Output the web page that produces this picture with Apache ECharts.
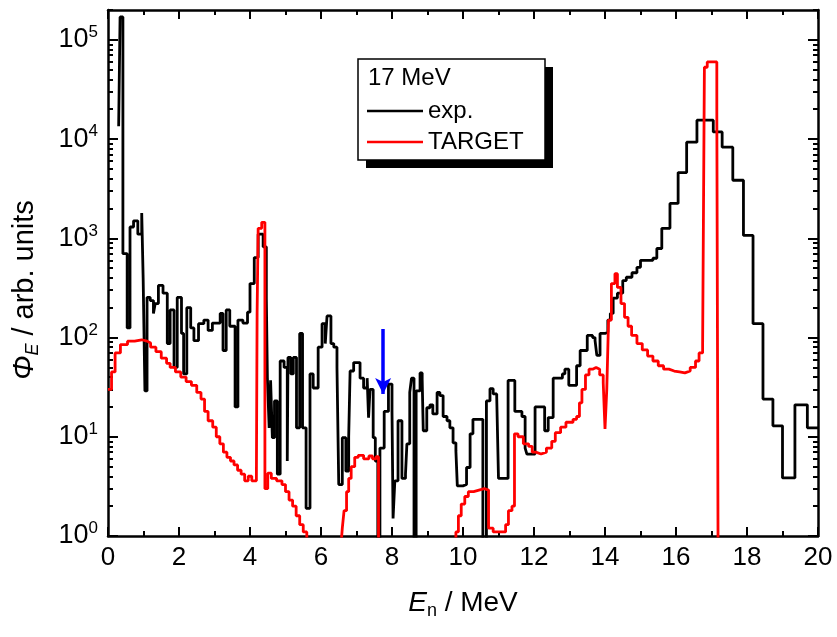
<!DOCTYPE html>
<html>
<head>
<meta charset="utf-8">
<script src="https://cdn.jsdelivr.net/npm/echarts@6/dist/echarts.min.js"></script>
<style>html,body{margin:0;padding:0;background:#fff}#c{width:837px;height:637px}</style>
</head>
<body>
<div id="c"></div>
<script>
// ---- data ----
const expE = [0.30,0.34,0.42,0.54,0.62,0.72,0.84,0.95,0.99,1.04,1.10,1.19,1.28,1.33,1.42,1.55,1.67,1.75,1.86,1.95,
  2.07,2.13,2.22,2.33,2.42,2.55,2.70,2.82,2.94,3.16,3.24,3.33,3.43,3.58,3.66,3.80,3.93,4.00,4.12,4.23,
  4.37,4.46,4.49,4.54,4.58,4.63,4.69,4.77,4.85,4.96,5.05,5.07,5.15,5.22,5.31,5.40,5.48,5.58,5.69,5.78,
  5.92,6.03,6.12,6.17,6.28,6.36,6.45,6.50,6.60,6.70,6.78,6.82,6.92,7.10,7.20,7.30,7.34,7.38,7.47,7.53,
  7.60,7.66,7.78,7.90,8.00,8.03,8.08,8.17,8.28,8.38,8.42,8.50,8.55,8.62,8.68,8.79,8.85,8.88,8.98,9.07,
  9.15,9.27,9.35,9.44,9.55,9.63,9.72,9.80,9.84,10.00,10.10,10.20,10.28,10.48,10.56,10.66,10.76,10.85,10.95,11.00,
  11.27,11.46,11.66,11.75,11.80,12.03,12.30,12.40,12.54,12.80,12.87,12.98,13.20,13.30,13.50,13.65,13.72,13.77,13.86,14.00,
  14.08,14.15,14.23,14.35,14.50,14.60,14.76,14.90,15.00,15.35,15.46,15.60,15.83,16.06,16.30,16.59,17.05,17.30,17.60,17.90,
  18.17,18.45,18.73,19.00,19.35,19.70,20.00];
const expV = [13500,170000,700,125,1300,1500,1100,1800,400,29,254,236,175,220,335,280,87,190,50,254,
  110,43,200,125,93,138,150,118,140,175,74,190,130,20,150,140,180,350,640,1100,
  820,250,39,12.3,37,9.8,23,4.2,58,50,5.7,63,43,63,12.3,110,12.3,1.9,43,31,
  80,138,87,165,87,80,50,3.3,9.8,4.5,10,46,56,39,31,39,15.6,30,9.8,5.7,
  0.01,7.7,18,34,18,1.5,3.6,14.5,3.8,4.2,8.5,28,39,0.01,29,44,38,11.5,19.6,21,
  17,28,26,16,14.5,12.3,8.7,7.2,3.2,3.3,4.9,10.7,15,15,0.01,23,30.5,27,25,3.8,
  37,18,16,7.7,6.7,20,11.5,15.6,39,43,48,33,52,74,105,100,93,66,110,113,
  150,175,250,280,375,405,450,510,600,630,790,1260,2250,4600,9300,15500,11800,8300,3850,1070,
  138,24,12.9,3.85,21,12.3,12.3];

const tgtE = [0.00,0.10,0.20,0.35,0.55,0.75,0.95,1.10,1.20,1.35,1.50,1.65,1.75,1.90,2.05,2.20,2.35,2.50,2.62,2.72,
  2.82,2.95,3.05,3.15,3.25,3.35,3.45,3.55,3.65,3.75,3.85,3.95,4.05,4.18,4.20,4.23,4.33,4.42,4.50,4.60,
  4.75,4.90,5.00,5.10,5.20,5.30,5.40,5.50,5.60,5.70,6.55,6.60,6.65,6.72,6.78,6.85,6.95,7.05,7.20,7.35,
  7.45,7.55,7.62,9.80,9.87,9.95,10.05,10.15,10.30,10.45,10.60,10.72,10.85,11.00,11.20,11.28,11.38,11.45,11.55,11.70,
  11.85,11.95,12.05,12.20,12.35,12.50,12.60,12.75,12.90,13.10,13.20,13.28,13.35,13.45,13.55,13.65,13.75,13.85,13.95,14.00,
  14.05,14.10,14.18,14.28,14.35,14.45,14.55,14.65,14.75,14.90,15.05,15.20,15.35,15.50,15.65,15.80,15.95,16.10,16.25,16.40,
  16.55,16.65,16.75,16.80,16.88,17.15,17.20,20.00];
const tgtV = [30,45,70,85,92,95,92,88,80,72,62,55,50,45,40,36,33,28,24,18,
  14.5,12.5,10,8.5,7,6.2,5.7,5.2,4.6,4.2,3.6,4.0,3.6,3.8,175,1260,1450,3.0,4.3,3.8,
  3.6,3.3,2.8,2.3,2.0,1.6,1.3,1.1,0.9,0.01,0.7,1.2,1.8,2.8,3.8,5.0,6.2,6.5,6.0,6.4,
  6.0,6.3,0.01,1.1,1.6,2.1,2.5,2.8,2.9,3.0,2.9,1.2,1.1,1.1,1.3,1.8,2.0,10.7,10,8.5,
  8,7,6.7,7,7.7,9,11,12.5,14,15,16,22,30,42,48,50,48,42,35,12,
  30,150,350,440,320,220,160,130,105,87,75,65,58,52,48,46,45,44,46,50,
  58,70,85,53000,60000,18700,0.01,0.01];

const seriesNames = ['exp.', 'TARGET'];
const legendTitle = '17 MeV';
const xTickValues = [0,2,4,6,8,10,12,14,16,18,20];
const yMajor = [1, 10, 100, 1000, 10000, 100000];
const yLabelExp = ['0','1','2','3','4','5'];
const arrowE = 7.75, arrowFrom = 122, arrowTo = 27;

// ---- chart ----
const FONT = '"Liberation Sans", Arial, sans-serif';
const yMinor = [];
yMajor.forEach(d => { for (let k = 2; k <= 9; k++) { if (d * k <= 200000) yMinor.push(d * k); } });
yMinor.push(200000);

function xAx(pos, labels) {
  return {
    type: 'value', min: 0, max: 20, interval: 2, position: pos,
    axisLine: { show: true, onZero: false, lineStyle: { color: '#000', width: 2.5 } },
    axisTick: { show: true, inside: true, length: 9, lineStyle: { color: '#000', width: 2 } },
    minorTick: { show: true, splitNumber: 2, length: 5, lineStyle: { color: '#000', width: 2 } },
    splitLine: { show: false }, minorSplitLine: { show: false },
    axisLabel: labels ? {
      show: true, color: '#000', fontSize: 26, fontFamily: FONT, margin: 9,
      customValues: xTickValues
    } : { show: false },
    name: labels ? '{e|E}{n|n}{t| / MeV}' : '',
    nameLocation: 'middle', nameGap: 50,
    nameTextStyle: {
      fontFamily: FONT, color: '#000',
      rich: {
        e: { fontSize: 28, fontStyle: 'italic', fontFamily: FONT, color: '#000', lineHeight: 34 },
        n: { fontSize: 18, fontFamily: FONT, color: '#000', verticalAlign: 'bottom', lineHeight: 20 },
        t: { fontSize: 28, fontFamily: FONT, color: '#000', lineHeight: 34 }
      }
    }
  };
}
function yAx(pos, vals, len, showLine, labels) {
  return {
    type: 'log', logBase: 10, min: 1, max: 200000, position: pos,
    axisLine: { show: showLine, onZero: false, lineStyle: { color: '#000', width: 2.5 } },
    axisTick: { show: true, inside: true, length: len, customValues: vals, lineStyle: { color: '#000', width: 2 } },
    minorTick: { show: false }, splitLine: { show: false }, minorSplitLine: { show: false },
    axisLabel: labels ? {
      show: true, customValues: yMajor, margin: 10,
      formatter: v => '{b|10}{s|' + yLabelExp[yMajor.indexOf(Math.round(v))] + '}',
      rich: {
        b: { fontSize: 27, fontFamily: FONT, color: '#000', lineHeight: 32 },
        s: { fontSize: 17, fontFamily: FONT, color: '#000', verticalAlign: 'top', lineHeight: 19 }
      }
    } : { show: false },
    name: labels ? '{p|Φ}{e|E}{t| / arb. units}' : '',
    nameLocation: 'middle', nameRotate: 90, nameGap: 66,
    nameTextStyle: {
      fontFamily: FONT, color: '#000', padding: [0, 34, 0, 0],
      rich: {
        p: { fontSize: 29, fontStyle: 'italic', fontFamily: FONT, color: '#000', lineHeight: 34 },
        e: { fontSize: 18, fontStyle: 'italic', fontFamily: FONT, color: '#000', verticalAlign: 'bottom', lineHeight: 20 },
        t: { fontSize: 29, fontFamily: FONT, color: '#000', lineHeight: 34 }
      }
    }
  };
}

const zip = (a, b) => a.map((x, i) => [x, b[i]]);

const chart = echarts.init(document.getElementById('c'), null, { renderer: 'canvas' });
chart.setOption({
  backgroundColor: '#fff',
  animation: false,
  grid: { left: 108, top: 10, width: 710, height: 526, containLabel: false, outerBoundsMode: 'none' },
  xAxis: [xAx('bottom', true), xAx('top', false)],
  yAxis: [
    yAx('left', yMajor, 10, true, true),
    yAx('left', yMinor, 5, false, false),
    yAx('right', yMajor, 10, true, false),
    yAx('right', yMinor, 5, false, false)
  ],
  series: [
    {
      name: seriesNames[1], type: 'line', step: 'end', showSymbol: false, symbol: 'none',
      xAxisIndex: 0, yAxisIndex: 0, clip: true,
      data: zip(tgtE, tgtV),
      lineStyle: { color: '#ff0000', width: 2.8 }, z: 3
    },
    {
      name: seriesNames[0], type: 'line', step: 'end', showSymbol: false, symbol: 'none',
      xAxisIndex: 0, yAxisIndex: 0, clip: true,
      data: zip(expE, expV),
      lineStyle: { color: '#000', width: 2.8 }, z: 2,
      markLine: {
        silent: true, symbol: ['none', 'arrow'], symbolSize: [12, 16],
        label: { show: false },
        lineStyle: { color: '#0000ff', width: 3.5, type: 'solid' },
        data: [[{ coord: [arrowE, arrowFrom] }, { coord: [arrowE, arrowTo] }]]
      }
    }
  ],
  graphic: [
    { type: 'rect', shape: { x: 366, y: 67, width: 187, height: 101 }, style: { fill: '#000' }, z: 10 },
    { type: 'rect', shape: { x: 358, y: 59, width: 187, height: 101 }, style: { fill: '#fff', stroke: '#000', lineWidth: 1.5 }, z: 11 },
    { type: 'text', x: 368, y: 78, style: { text: legendTitle, font: '24px ' + FONT, fill: '#000', verticalAlign: 'middle' }, z: 12 },
    { type: 'line', shape: { x1: 367, y1: 111, x2: 423, y2: 111 }, style: { stroke: '#000', lineWidth: 2.5 }, z: 12 },
    { type: 'text', x: 428, y: 111, style: { text: seriesNames[0], font: '24px ' + FONT, fill: '#000', verticalAlign: 'middle' }, z: 12 },
    { type: 'line', shape: { x1: 367, y1: 142, x2: 423, y2: 142 }, style: { stroke: '#ff0000', lineWidth: 2.5 }, z: 12 },
    { type: 'text', x: 428, y: 142, style: { text: seriesNames[1], font: '24px ' + FONT, fill: '#000', verticalAlign: 'middle' }, z: 12 }
  ]
});
</script>
</body>
</html>
